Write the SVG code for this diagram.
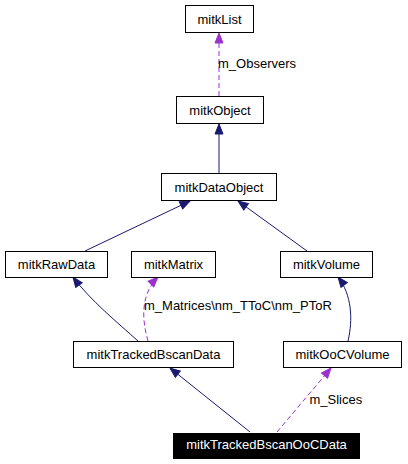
<svg xmlns="http://www.w3.org/2000/svg" width="408" height="464" viewBox="0 0 408 464">
<style>
.box{fill:#fff;stroke:#000;stroke-width:1}
.lbl{font-family:"Liberation Sans",Arial,sans-serif;font-size:13px;fill:#000;text-anchor:middle}
.elbl{font-family:"Liberation Sans",Arial,sans-serif;font-size:13px;fill:#000}
.inh{fill:none;stroke:#191970;stroke-width:1;marker-end:url(#an)}
.use{fill:none;stroke:#9a32cd;stroke-width:1;stroke-dasharray:5,3;marker-end:url(#ap)}
</style>
<defs>
<marker id="an" markerUnits="userSpaceOnUse" markerWidth="11" markerHeight="9" refX="10" refY="4" orient="auto" viewBox="0 0 11 9" overflow="visible">
<path d="M0,0 L10,4 L0,8 z" fill="#191970" stroke="#191970" stroke-width="1"/>
</marker>
<marker id="ap" markerUnits="userSpaceOnUse" markerWidth="11" markerHeight="9" refX="10" refY="4" orient="auto" viewBox="0 0 11 9" overflow="visible">
<path d="M0,0 L10,4 L0,8 z" fill="#9a32cd" stroke="#9a32cd" stroke-width="1"/>
</marker>
</defs>
<rect width="408" height="464" fill="#fff"/>
<g id="connectors">
<path class="use" d="M219,96 L219,33"/>
<text class="elbl" x="218" y="68">m_Observers</text>
<path class="inh" d="M219,173 L219,124"/>
<path class="inh" d="M85,251 L190,201"/>
<path class="inh" d="M307,251 L238,201"/>
<path class="inh" d="M138,341 C118,323 90,300 73,277"/>
<path class="use" d="M148,341 C142,320 140,295 158,277"/>
<text class="elbl" x="144" y="310">m_Matrices\nm_TToC\nm_PToR</text>
<path class="inh" d="M348,341 C353,320 352,295 338,277"/>
<path class="inh" d="M250,432 L170,368"/>
<path class="use" d="M277,432 L331,368"/>
<text class="elbl" x="309.5" y="404">m_Slices</text>
</g>
<g id="mitkList"><rect class="box" x="185.5" y="5.5" width="68" height="27"/><text class="lbl" x="219.5" y="23.5">mitkList</text></g>
<g id="mitkObject"><rect class="box" x="176.5" y="96.5" width="87" height="27"/><text class="lbl" x="220" y="114.5">mitkObject</text></g>
<g id="mitkDataObject"><rect class="box" x="161.5" y="173.5" width="115" height="27"/><text class="lbl" x="219" y="191.5">mitkDataObject</text></g>
<g id="mitkRawData"><rect class="box" x="5.5" y="251.5" width="102" height="26"/><text class="lbl" x="56.5" y="269.3">mitkRawData</text></g>
<g id="mitkMatrix"><rect class="box" x="131.5" y="251.5" width="84" height="26"/><text class="lbl" x="173.5" y="269.3">mitkMatrix</text></g>
<g id="mitkVolume"><rect class="box" x="280.5" y="251.5" width="92" height="26"/><text class="lbl" x="326.5" y="269.3">mitkVolume</text></g>
<g id="mitkTrackedBscanData"><rect class="box" x="73.5" y="341.5" width="160" height="26"/><text class="lbl" x="153.5" y="359.3">mitkTrackedBscanData</text></g>
<g id="mitkOoCVolume"><rect class="box" x="283.5" y="341.5" width="118" height="26"/><text class="lbl" x="342.5" y="359.3">mitkOoCVolume</text></g>
<g id="mitkTrackedBscanOoCData"><rect x="173" y="433" width="187" height="26" fill="#000"/><text class="lbl" x="266.5" y="448.5" style="fill:#fff">mitkTrackedBscanOoCData</text></g>
</svg>
